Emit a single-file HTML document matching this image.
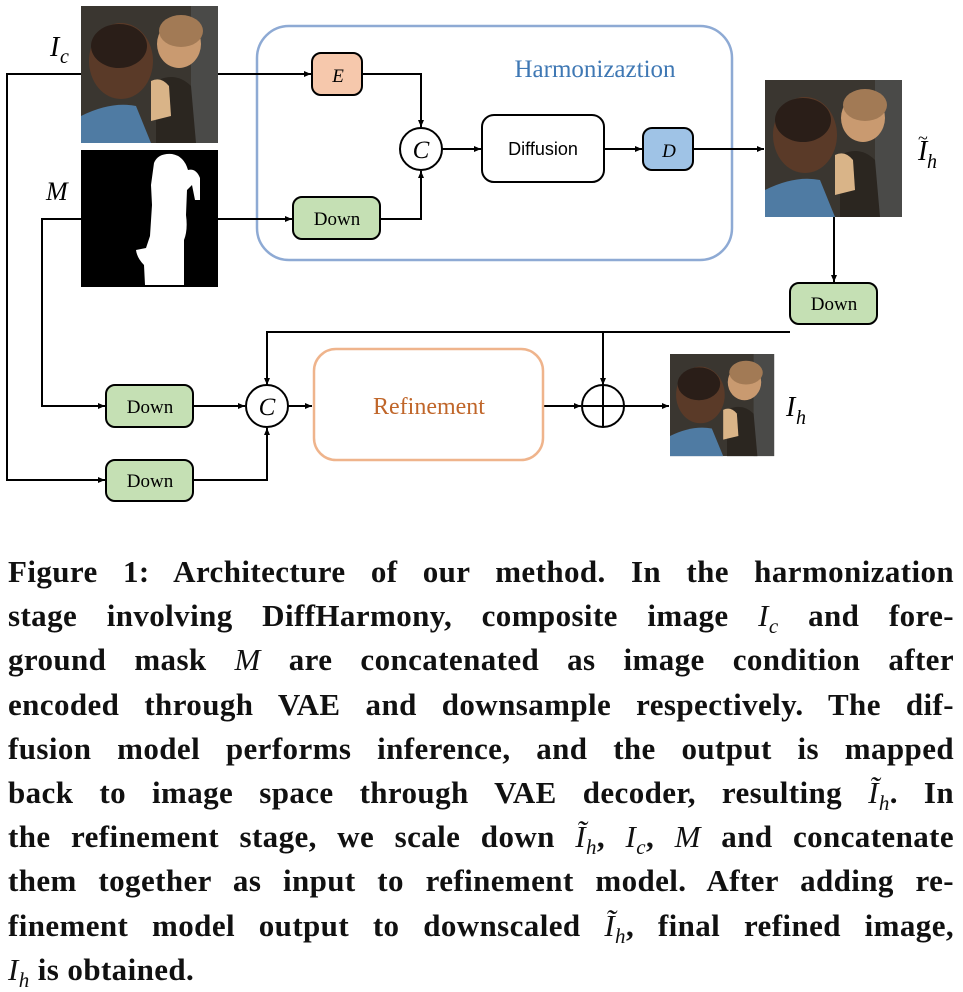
<!DOCTYPE html>
<html><head><meta charset="utf-8"><style>
body{margin:0;background:#fff;width:963px;height:988px;overflow:hidden;position:relative}
svg{position:absolute;left:0;top:0}
.cap{position:absolute;left:8px;top:550px;width:946px;font-family:"Liberation Serif",serif;font-weight:bold;font-size:31px;letter-spacing:0.4px;color:#111}
.cap div{height:44.2px;line-height:44px;text-align:justify;text-align-last:justify;white-space:nowrap}
.cap div.l{text-align-last:left}
.cap i{font-weight:normal}
.cap sub{font-size:21px;vertical-align:0;position:relative;top:7px;line-height:0}
</style></head><body>
<svg width="963" height="540" viewBox="0 0 963 540" font-family="Liberation Serif, serif">
<defs>
<marker id="a" markerWidth="8" markerHeight="8" refX="7" refY="4" orient="auto" markerUnits="userSpaceOnUse"><path d="M0,1 L7,4 L0,7 Z" fill="#000"/></marker>
<g id="photo">
<rect width="137" height="137" fill="#3a3630"/>
<rect x="110" y="0" width="27" height="137" fill="#4a4a48"/>
<ellipse cx="40" cy="55" rx="32" ry="38" fill="#5a3a28"/>
<ellipse cx="38" cy="40" rx="28" ry="22" fill="#2a1e18"/>
<ellipse cx="98" cy="38" rx="22" ry="24" fill="#c99a70"/>
<ellipse cx="100" cy="25" rx="22" ry="16" fill="#a27a55"/>
<path d="M0,110 Q30,95 55,100 L70,137 L0,137Z" fill="#4f7ba3"/>
<path d="M75,75 Q95,65 110,80 L115,137 L75,137Z" fill="#2b2620"/>
<path d="M70,75 Q80,70 88,80 L90,110 L70,115Z" fill="#d9b488"/>
</g>
</defs>
<rect x="257" y="26" width="475" height="234" rx="32" fill="none" stroke="#8eaad4" stroke-width="2.5"/>
<text x="595" y="77" font-size="25" fill="#3f78b4" text-anchor="middle">Harmonizaztion</text>
<use href="#photo" x="81" y="6"/>
<rect x="81" y="150" width="137" height="137" fill="#000"/>
<path d="M154,163 Q158,153 172,154 Q184,156 188,170 Q196,168 200,178 L200,200 L195,200 L192,185 L187,190 L186,215 Q188,230 184,240 L184,285 L145,285 L144,265 Q137,258 136,250 L146,248 L150,236 L152,205 L151,185 Z" fill="#fff"/>
<text x="50" y="56" font-size="28" font-style="italic">I</text><text x="60" y="63" font-size="20" font-style="italic">c</text>
<text x="46" y="200" font-size="26" font-style="italic">M</text>
<use href="#photo" x="765" y="80"/>
<text x="918" y="160" font-size="28" font-style="italic">I</text><text x="927" y="168" font-size="20" font-style="italic">h</text>
<text x="918" y="144" font-size="18">~</text>
<g transform="translate(670,354) scale(0.76,0.745)"><use href="#photo"/></g>
<text x="786" y="416" font-size="28" font-style="italic">I</text><text x="796" y="424" font-size="20" font-style="italic">h</text>
<g stroke="#000" stroke-width="2" fill="none">
<path d="M218,74 H311" marker-end="url(#a)"/>
<path d="M362,74 H421 V127" marker-end="url(#a)"/>
<path d="M218,219 H292" marker-end="url(#a)"/>
<path d="M380,219 H421 V171" marker-end="url(#a)"/>
<path d="M442,149 H481" marker-end="url(#a)"/>
<path d="M604,149 H642" marker-end="url(#a)"/>
<path d="M693,149 H764" marker-end="url(#a)"/>
<path d="M834,217 V282" marker-end="url(#a)"/>
<path d="M790,332 H267 V385" marker-end="url(#a)"/>
<path d="M603,332 V385" marker-end="url(#a)"/>
<path d="M81,74 H7 V480 H105" marker-end="url(#a)"/>
<path d="M81,219 H42 V406 H105" marker-end="url(#a)"/>
<path d="M193,406 H245" marker-end="url(#a)"/>
<path d="M193,480 H267 V428" marker-end="url(#a)"/>
<path d="M288,406 H312" marker-end="url(#a)"/>
<path d="M543,406 H581" marker-end="url(#a)"/>
<path d="M624,406 H669" marker-end="url(#a)"/>
</g>
<g stroke="#000" stroke-width="2">
<rect x="312" y="53" width="50" height="42" rx="9" fill="#f6c8ac"/>
<rect x="643" y="128" width="50" height="42" rx="9" fill="#9fc3e6"/>
<rect x="482" y="115" width="122" height="67" rx="12" fill="#fff"/>
<rect x="293" y="197" width="87" height="42" rx="9" fill="#c5e0b4"/>
<rect x="790" y="283" width="87" height="41" rx="9" fill="#c5e0b4"/>
<rect x="106" y="385" width="87" height="42" rx="9" fill="#c5e0b4"/>
<rect x="106" y="460" width="87" height="41" rx="9" fill="#c5e0b4"/>
<circle cx="421" cy="149" r="21" fill="#fff"/>
<circle cx="267" cy="406" r="21" fill="#fff"/>
<circle cx="603" cy="406" r="21" fill="#fff"/>
<path d="M582,406 H624 M603,385 V427" fill="none"/>
</g>
<rect x="314" y="349" width="229" height="111" rx="22" fill="none" stroke="#efb48c" stroke-width="2.5"/>
<g font-size="19" text-anchor="middle">
<text x="338" y="82" font-style="italic">E</text>
<text x="669" y="157" font-style="italic">D</text>
<text x="543" y="155" font-family="Liberation Sans, sans-serif" font-size="18">Diffusion</text>
<text x="337" y="225">Down</text>
<text x="834" y="310">Down</text>
<text x="150" y="413">Down</text>
<text x="150" y="487">Down</text>
<text x="421" y="158" font-size="25" font-style="italic">C</text>
<text x="267" y="415" font-size="25" font-style="italic">C</text>
<text x="429" y="414" font-size="24" fill="#c0662a">Refinement</text>
</g>
</svg>
<div class="cap">
<div>Figure 1: Architecture of our method. In the harmonization</div>
<div>stage involving DiffHarmony, composite image <i>I<sub>c</sub></i> and fore-</div>
<div>ground mask <i>M</i> are concatenated as image condition after</div>
<div>encoded through VAE and downsample respectively. The dif-</div>
<div>fusion model performs inference, and the output is mapped</div>
<div>back to image space through VAE decoder, resulting <i>Ĩ<sub>h</sub></i>. In</div>
<div>the refinement stage, we scale down <i>Ĩ<sub>h</sub></i>, <i>I<sub>c</sub></i>, <i>M</i> and concatenate</div>
<div>them together as input to refinement model. After adding re-</div>
<div>finement model output to downscaled <i>Ĩ<sub>h</sub></i>, final refined image,</div>
<div class="l"><i>I<sub>h</sub></i> is obtained.</div>
</div>
</body></html>
